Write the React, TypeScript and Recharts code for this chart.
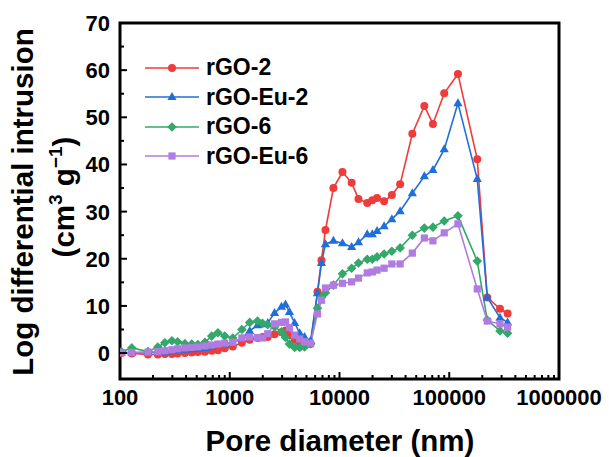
import {
  LineChart,
  Line,
  XAxis,
  YAxis,
  ReferenceArea,
} from 'recharts'

const poreDiameter = [
  103, 128, 180, 221, 256, 297, 335, 390, 451, 512, 594, 685, 780, 900, 1065, 1290, 1520, 1790, 1990, 2220,
  2560, 2960, 3220, 3500, 3900, 4340, 4800, 5450,
  6300, 6850, 7450, 8800, 10640, 12900, 14900, 17900, 19900, 22000, 25500, 30000, 35700, 46100, 59300,
  71000, 90000, 120000, 180000, 222000, 290000, 340000,
]

const rgo2 = [
  0.0, -0.1, -0.3, -0.3, -0.2, -0.2, -0.1, 0.0, 0.1, 0.2, 0.3, 0.5, 0.6, 1.0, 1.4, 2.2, 2.8, 3.2, 3.4, 3.4,
  4.0, 4.4, 4.8, 3.8, 2.8, 2.3, 2.0, 1.9,
  13.0, 19.7, 26.1, 35.0, 38.4, 36.1, 32.7, 31.8, 32.4, 32.9, 32.2, 33.5, 35.8, 46.5, 52.4,
  48.6, 55.1, 59.2, 41.1, 11.8, 9.4, 8.4,
]

const rgoEu2 = [
  0.1, 0.1, 0.1, 0.2, 0.3, 0.4, 0.6, 0.7, 0.8, 0.9, 1.1, 1.4, 1.7, 1.9, 2.3, 3.0, 4.7, 5.9, 6.1, 6.4,
  8.5, 9.8, 10.3, 8.7, 6.4, 4.2, 3.4, 2.6,
  12.7, 19.1, 23.1, 23.8, 23.3, 22.5, 23.5, 25.2, 25.2, 25.9, 26.9, 28.4, 30.1, 33.9, 37.5,
  38.8, 43.2, 53.0, 36.9, 11.8, 7.5, 6.5,
]

const rgo6 = [
  0.3, 1.1, 0.3, 1.3, 2.2, 2.6, 2.4, 2.0, 1.9, 1.8, 2.3, 3.6, 4.3, 3.6, 3.2, 5.0, 6.5, 6.8, 6.3, 6.0,
  5.6, 4.5, 3.3, 1.9, 1.2, 1.2, 1.3, 2.0,
  9.5, 11.8, 12.8, 14.4, 16.8, 18.0, 19.1, 19.9, 19.9, 20.4, 21.0, 21.6, 22.3, 25.0, 26.5,
  26.7, 28.0, 29.1, 19.5, 7.0, 4.7, 4.2,
]

const rgoEu6 = [
  0.1, 0.1, 0.2, 0.3, 0.5, 0.7, 0.9, 1.1, 1.2, 1.3, 1.5, 1.7, 1.9, 2.1, 2.3, 3.2, 3.4, 3.3, 3.2, 4.1,
  6.2, 6.5, 6.6, 5.4, 3.8, 3.0, 2.4, 2.1,
  8.3, 11.2, 13.8, 14.4, 14.8, 15.1, 15.9, 17.0, 17.2, 17.6, 18.0, 18.9, 18.9, 21.2, 24.4,
  23.8, 25.5, 27.4, 13.6, 6.8, 6.2, 5.5,
]

const xMajor = [100, 1000, 10000, 100000, 1000000]
const xTicks = [2, 3, 4, 5].flatMap(d => [1, 2, 3, 4, 5, 6, 7, 8, 9].map(m => m * 10 ** d)).concat([1000000])
const yTicks = [0, 5, 10, 15, 20, 25, 30, 35, 40, 45, 50, 55, 60, 65, 70]

const FONT = '"Liberation Sans", Arial, sans-serif'

const series = [
  { key: 'rgo2', name: 'rGO-2', color: '#F03B3B', shape: 'circle' },
  { key: 'rgoEu2', name: 'rGO-Eu-2', color: '#1F6FDA', shape: 'triangle' },
  { key: 'rgo6', name: 'rGO-6', color: '#33A86A', shape: 'diamond' },
  { key: 'rgoEu6', name: 'rGO-Eu-6', color: '#B07CE0', shape: 'square' },
]

const data = poreDiameter.map((x, i) => ({
  x,
  rgo2: rgo2[i],
  rgoEu2: rgoEu2[i],
  rgo6: rgo6[i],
  rgoEu6: rgoEu6[i],
}))

function Marker({ shape, cx, cy, color }: { shape: string, cx: number, cy: number, color: string }) {
  if (shape === 'circle') return <circle cx={cx} cy={cy} r={4} fill={color} />
  if (shape === 'triangle') return <polygon points={`${cx},${cy - 5} ${cx + 4.6},${cy + 3} ${cx - 4.6},${cy + 3}`} fill={color} />
  if (shape === 'diamond') return <polygon points={`${cx},${cy - 4.8} ${cx + 4.8},${cy} ${cx},${cy + 4.8} ${cx - 4.8},${cy}`} fill={color} />
  return <rect x={cx - 3.6} y={cy - 3.6} width={7.2} height={7.2} fill={color} />
}

const TICK_MARGIN = 8

// eslint-disable-next-line @typescript-eslint/no-explicit-any
function XTick(props: any) {
  const { x, y, payload } = props
  const axisY = y - TICK_MARGIN
  const major = xMajor.includes(payload.value)
  return (
    <g>
      <line x1={x} x2={x} y1={axisY} y2={axisY - (major ? 7 : 4)} stroke="#000" strokeWidth={2} />
      {major && (
        <text x={x} y={axisY + 26} textAnchor="middle" fontFamily={FONT} fontWeight="bold" fontSize={22} fill="#000">
          {payload.value}
        </text>
      )}
    </g>
  )
}

// eslint-disable-next-line @typescript-eslint/no-explicit-any
function YTick(props: any) {
  const { x, y, payload } = props
  const axisX = x + TICK_MARGIN
  const major = payload.value % 10 === 0
  return (
    <g>
      <line x1={axisX} x2={axisX + (major ? 7 : 4)} y1={y} y2={y} stroke="#000" strokeWidth={2} />
      {major && (
        <text x={axisX - 10} y={y} dy="0.36em" textAnchor="end" fontFamily={FONT} fontWeight="bold" fontSize={22} fill="#000">
          {payload.value}
        </text>
      )}
    </g>
  )
}

function LegendBox() {
  return (
    <div style={{ position: 'absolute', left: 145, top: 53, fontFamily: FONT, fontWeight: 'bold', fontSize: 23 }}>
      {series.map(s => (
        <div key={s.key} style={{ display: 'flex', alignItems: 'center', height: 29.5 }}>
          <svg width={54} height={12} style={{ marginRight: 7 }}>
            <line x1={0} x2={54} y1={6} y2={6} stroke={s.color} strokeWidth={1.6} />
            <Marker shape={s.shape} cx={27} cy={6} color={s.color} />
          </svg>
          <span>{s.name}</span>
        </div>
      ))}
    </div>
  )
}

function YTitle() {
  return (
    <g fontFamily={FONT} fontWeight="bold" fontSize={29.5} fill="#000">
      <text transform="translate(33,202) rotate(-90)" textAnchor="middle">Log differential intrusion</text>
      <text transform="translate(74,197) rotate(-90)" textAnchor="middle">
        (cm<tspan fontSize={19} dy={-12}>3</tspan><tspan dy={12}> g</tspan>
        <tspan fontSize={19} dy={-12}>−1</tspan><tspan dy={12}>)</tspan>
      </text>
    </g>
  )
}

export default function App() {
  return (
    <div style={{ position: 'absolute', left: 0, top: 0, width: 609, height: 457, background: '#fff' }}>
      <LineChart width={609} height={457} data={data} margin={{ top: 23, right: 50, bottom: 38, left: 60 }}>
        <XAxis
          dataKey="x"
          type="number"
          scale="log"
          domain={[100, 1000000]}
          ticks={xTicks}
          interval={0}
          allowDataOverflow
          height={40}
          axisLine={false}
          tickLine={false}
          tickSize={0}
          tickMargin={TICK_MARGIN}
          tick={<XTick />}
        />
        <YAxis
          type="number"
          domain={[-5.5, 70]}
          ticks={yTicks}
          interval={0}
          allowDataOverflow
          width={60}
          axisLine={false}
          tickLine={false}
          tickSize={0}
          tickMargin={TICK_MARGIN}
          tick={<YTick />}
        />
        <ReferenceArea x1={100} x2={1000000} y1={-5.5} y2={70} fill="none" stroke="#000" strokeWidth={3} ifOverflow="visible" />
        {series.map(s => (
          <Line
            key={s.key}
            dataKey={s.key}
            name={s.name}
            type="linear"
            stroke={s.color}
            strokeWidth={1.6}
            isAnimationActive={false}
            // eslint-disable-next-line @typescript-eslint/no-explicit-any
            dot={(p: any) => <Marker key={`${s.key}-${p.index}`} shape={s.shape} cx={p.cx} cy={p.cy} color={s.color} />}
            activeDot={false}
          />
        ))}
        <text x={340} y={451} textAnchor="middle" fontFamily={FONT} fontWeight="bold" fontSize={29.5} fill="#000">
          Pore diameter (nm)
        </text>
        <YTitle />
      </LineChart>
      <LegendBox />
    </div>
  )
}
